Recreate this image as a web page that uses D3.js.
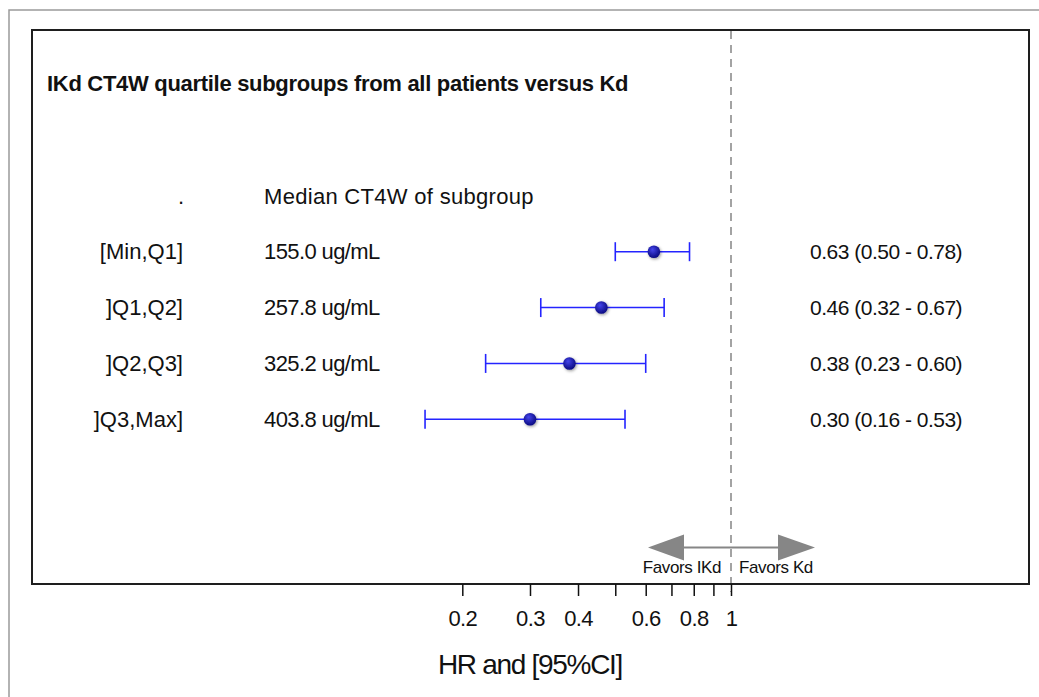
<!DOCTYPE html>
<html>
<head>
<meta charset="utf-8">
<script src="https://cdn.jsdelivr.net/npm/d3@7"></script>
<style>
  html, body { margin: 0; padding: 0; background: #fff; }
  svg { display: block; font-family: "Liberation Sans", Arial, sans-serif; }
</style>
</head>
<body>
<svg id="chart" width="1039" height="697"></svg>
<script>
// Subgroups, their median exposure and the hazard ratio estimates
const categories = ["[Min,Q1]", "]Q1,Q2]", "]Q2,Q3]", "]Q3,Max]"];
const medians = ["155.0 ug/mL", "257.8 ug/mL", "325.2 ug/mL", "403.8 ug/mL"];
const hr = [0.63, 0.46, 0.38, 0.30];
const lower = [0.50, 0.32, 0.23, 0.16];
const upper = [0.78, 0.67, 0.60, 0.53];

// Axis ticks and which of them carry a label
const tickValues = [0.2, 0.3, 0.4, 0.5, 0.6, 0.7, 0.8, 0.9, 1];
const tickLabels = ["0.2", "0.3", "0.4", "", "0.6", "", "0.8", "", "1"];

const titleText = "IKd CT4W quartile subgroups from all patients versus Kd";
const headerLabel = ".";
const headerMedian = "Median CT4W of subgroup";
const axisTitle = "HR and [95%CI]";
const favorsLeft = "Favors IKd";
const favorsRight = "Favors Kd";

const svg = d3.select("#chart");
const W = 1039, H = 697;

// Plot frame
const frame = { left: 32, top: 30, right: 1029, bottom: 584 };

const x = d3.scaleLog().domain([0.2, 1]).range([462.3, 731]);
const y = d3.scalePoint().domain(categories).range([251.7, 419.3]);
const rowStep = y.step();

const defs = svg.append("defs");
const grad = defs.append("radialGradient").attr("id", "dotFill")
  .attr("cx", "45%").attr("cy", "40%").attr("r", "60%")
  .attr("fx", "38%").attr("fy", "32%");
grad.append("stop").attr("offset", "0%").attr("stop-color", "#4545ec");
grad.append("stop").attr("offset", "100%").attr("stop-color", "#0a0a80");
const shadow = defs.append("filter").attr("id", "dotShadow")
  .attr("x", "-60%").attr("y", "-60%").attr("width", "220%").attr("height", "220%");
shadow.append("feDropShadow").attr("dx", 1).attr("dy", 1.2)
  .attr("stdDeviation", 1.4).attr("flood-color", "#000").attr("flood-opacity", 0.4);

// Outer page border (top and left only)
svg.append("path")
  .attr("d", `M9,${H} L9,10 L${W},10`)
  .attr("fill", "none").attr("stroke", "#9a9a9a").attr("stroke-width", 1.5);

// Reference line at HR = 1
svg.append("line")
  .attr("x1", x(1)).attr("x2", x(1))
  .attr("y1", frame.top + 1).attr("y2", frame.bottom + 8)
  .attr("stroke", "#a3a3a3").attr("stroke-width", 2)
  .attr("stroke-dasharray", "8,6");

// Inner frame
svg.append("rect")
  .attr("x", frame.left).attr("y", frame.top)
  .attr("width", frame.right - frame.left).attr("height", frame.bottom - frame.top)
  .attr("fill", "none").attr("stroke", "#1e1e1e").attr("stroke-width", 2);

// Title
svg.append("text")
  .attr("x", 47).attr("y", 91)
  .attr("font-size", 22).attr("font-weight", "bold")
  .attr("letter-spacing", "-0.3px")
  .attr("fill", "#111")
  .text(titleText);

const textStyle = (sel, spacing) => sel.attr("font-size", 22)
  .attr("letter-spacing", `${spacing}px`).attr("fill", "#111");

// Header row
const headerY = y(categories[0]) - rowStep;
svg.append("text").call(textStyle, 0)
  .attr("x", 184).attr("y", headerY).attr("dy", "0.35em")
  .attr("text-anchor", "end").text(headerLabel);
svg.append("text").call(textStyle, 0.3)
  .attr("x", 264).attr("y", headerY).attr("dy", "0.35em")
  .text(headerMedian);

// Rows
const rows = categories.map((c, i) => ({
  cat: c, median: medians[i], hr: hr[i], lo: lower[i], hi: upper[i]
}));

const g = svg.append("g");
const row = g.selectAll("g.row").data(rows).join("g").attr("class", "row")
  .attr("transform", d => `translate(0,${y(d.cat)})`);

row.append("text").call(textStyle, 0)
  .attr("x", 183).attr("dy", "0.35em").attr("text-anchor", "end")
  .text(d => d.cat);
row.append("text").call(textStyle, -0.6)
  .attr("x", 264).attr("dy", "0.35em")
  .text(d => d.median);
row.append("text").call(textStyle, -0.5)
  .attr("x", 810).attr("dy", "0.35em")
  .attr("font-size", 21)
  .text(d => `${d.hr.toFixed(2)} (${d.lo.toFixed(2)} - ${d.hi.toFixed(2)})`);

// Confidence intervals
const ciColor = "#2424ff";
row.append("line")
  .attr("x1", d => x(d.lo)).attr("x2", d => x(d.hi))
  .attr("stroke", ciColor).attr("stroke-width", 1.6);
row.selectAll("line.cap").data(d => [d.lo, d.hi]).join("line").attr("class", "cap")
  .attr("x1", v => x(v)).attr("x2", v => x(v))
  .attr("y1", -9.5).attr("y2", 9.5)
  .attr("stroke", ciColor).attr("stroke-width", 1.6);

// Point estimates
row.append("circle")
  .attr("cx", d => x(d.hr)).attr("r", 6.3)
  .attr("fill", "url(#dotFill)")
  .attr("filter", "url(#dotShadow)");

// X axis (log scale)
const axis = d3.axisBottom(x)
  .tickValues(tickValues)
  .tickFormat((d, i) => tickLabels[i])
  .tickSize(12).tickPadding(6).tickSizeOuter(0);
const ax = svg.append("g")
  .attr("transform", `translate(0,${frame.bottom})`)
  .call(axis);
ax.select(".domain").remove();
ax.selectAll(".tick line").attr("stroke", "#111").attr("stroke-width", 1.5);
ax.selectAll(".tick text")
  .attr("font-family", "Liberation Sans, Arial, sans-serif")
  .attr("font-size", 22).attr("letter-spacing", "-0.6px").attr("fill", "#111")
  .attr("dy", "0.71em").attr("y", 26);

// Axis title
svg.append("text")
  .attr("x", 530).attr("y", 674)
  .attr("text-anchor", "middle")
  .attr("font-size", 28).attr("letter-spacing", "-1.3px").attr("fill", "#111")
  .text(axisTitle);

// Direction arrows
const arrowY = 547.5;
const arrowColor = "#868686";
const x1 = x(1);
svg.append("line")
  .attr("x1", x1 - 48).attr("x2", x1 + 47)
  .attr("y1", arrowY).attr("y2", arrowY)
  .attr("stroke", arrowColor).attr("stroke-width", 2.2);
svg.append("path")
  .attr("d", `M${x1 - 83},${arrowY} L${x1 - 47},${arrowY - 13} L${x1 - 47},${arrowY + 13} Z`)
  .attr("fill", arrowColor);
svg.append("path")
  .attr("d", `M${x1 + 84},${arrowY} L${x1 + 47},${arrowY - 13} L${x1 + 47},${arrowY + 13} Z`)
  .attr("fill", arrowColor);

svg.append("text")
  .attr("x", x1 - 10).attr("y", 573)
  .attr("text-anchor", "end")
  .attr("font-size", 17).attr("letter-spacing", "-0.4px").attr("fill", "#111")
  .text(favorsLeft);
svg.append("text")
  .attr("x", x1 + 8).attr("y", 573)
  .attr("font-size", 17).attr("letter-spacing", "-0.4px").attr("fill", "#111")
  .text(favorsRight);
</script>
</body>
</html>
